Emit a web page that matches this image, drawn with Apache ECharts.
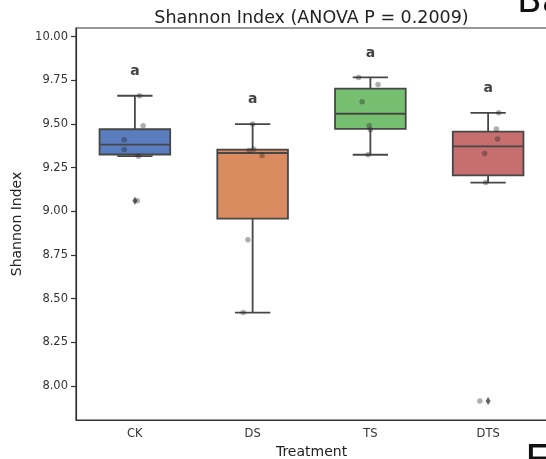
<!DOCTYPE html>
<html>
<head>
<meta charset="utf-8">
<script src="https://cdn.jsdelivr.net/npm/echarts@6/dist/echarts.min.js"></script>
<style>
html, body { margin: 0; padding: 0; background: #fff; }
#chart { width: 546px; height: 459px; }
</style>
</head>
<body>
<div id="chart"></div>
<script>
const categories = ['CK', 'DS', 'TS', 'DTS'];
const ckValues = [9.662, 9.49, 9.41, 9.354, 9.316, 9.06];
const dsValues = [9.50, 9.355, 9.348, 9.32, 8.837, 8.42];
const tsValues = [9.767, 9.727, 9.628, 9.49, 9.467, 9.324];
const dtsValues = [9.564, 9.471, 9.414, 9.331, 9.165, 7.914];
// strip plot jitter, in category units
const ckJitter = [0.04, 0.07, -0.09, -0.09, 0.03, 0.02];
const dsJitter = [0, 0.01, -0.03, 0.08, -0.04, -0.08];
const tsJitter = [-0.10, 0.065, -0.07, -0.01, 0, -0.02];
const dtsJitter = [0.09, 0.07, 0.08, -0.03, -0.02, -0.07];
const letters = ['a', 'a', 'a', 'a'];
const yTicks = [8.00, 8.25, 8.50, 8.75, 9.00, 9.25, 9.50, 9.75, 10.00];
const boxColors = ['#597dbf', '#da8b5f', '#76bf71', '#c76e6e'];
const lineColor = '#474747';
const font = 'DejaVu Sans';

const groups = [ckValues, dsValues, tsValues, dtsValues];
const jitters = [ckJitter, dsJitter, tsJitter, dtsJitter];

function quantile(sorted, p) {
    const pos = (sorted.length - 1) * p;
    const lo = Math.floor(pos), hi = Math.ceil(pos);
    return sorted[lo] + (sorted[hi] - sorted[lo]) * (pos - lo);
}

// seaborn style box stats (1.5 IQR whiskers)
function boxStats(vals) {
    const s = vals.slice().sort((a, b) => a - b);
    const q1 = quantile(s, 0.25), med = quantile(s, 0.5), q3 = quantile(s, 0.75);
    const iqr = q3 - q1;
    const inRange = v => v >= q1 - 1.5 * iqr && v <= q3 + 1.5 * iqr;
    const inside = s.filter(inRange);
    return {
        lo: inside[0], q1: q1, med: med, q3: q3, hi: inside[inside.length - 1],
        out: s.filter(v => !inRange(v))
    };
}

const stats = groups.map(boxStats);
const boxData = stats.map((s, i) => [i, s.lo, s.q1, s.med, s.q3, s.hi]);
const outlierData = [];
stats.forEach((s, i) => s.out.forEach(v => outlierData.push([i, v])));
const pointData = [];
groups.forEach((g, i) => g.forEach((v, j) => pointData.push([i + jitters[i][j], v])));
const letterData = groups.map((g, i) => [i, Math.max.apply(null, g) + 0.14, letters[i]]);

let chart = echarts.init(document.getElementById('chart'));
chart.setOption({
    animation: false,
    backgroundColor: '#fff',
    title: {
        text: 'Shannon Index (ANOVA P = 0.2009)',
        left: 311.5,
        top: 9,
        padding: 0,
        textAlign: 'center',
        textStyle: { fontFamily: font, fontSize: 17.5, fontWeight: 'normal', color: '#222' }
    },
    graphic: [
        // bits of the neighbouring panels that got cropped in
        { type: 'text', x: 517, y: 3, style: { text: 'Ba', fontFamily: font, fontSize: 36, fill: '#111', verticalAlign: 'middle' } },
        { type: 'text', x: 525, y: 464, style: { text: 'E', fontFamily: font, fontSize: 40, fill: '#111', verticalAlign: 'middle' } }
    ],
    grid: {
        left: 76, top: 28, width: 471, height: 392,
        outerBoundsMode: 'none',
        show: true, borderColor: '#333', borderWidth: 1.2, backgroundColor: 'transparent'
    },
    xAxis: [
        {
            type: 'category',
            data: categories,
            boundaryGap: true,
            name: 'Treatment',
            nameLocation: 'middle',
            nameGap: 24,
            nameTextStyle: { fontFamily: font, fontSize: 14, color: '#222' },
            axisLine: { lineStyle: { color: '#333', width: 1.2 } },
            axisTick: { alignWithLabel: true, length: 5, lineStyle: { color: '#333', width: 1.2 } },
            axisLabel: { fontFamily: font, fontSize: 11.5, color: '#333', margin: 8 },
            splitLine: { show: false }
        },
        { type: 'value', min: -0.5, max: 3.5, show: false }
    ],
    yAxis: {
        type: 'value',
        min: 7.805,
        max: 10.05,
        name: 'Shannon Index',
        nameLocation: 'middle',
        nameRotate: 90,
        nameGap: 50,
        nameTextStyle: { fontFamily: font, fontSize: 14, color: '#222' },
        axisLine: { show: true, onZero: false, lineStyle: { color: '#333', width: 1.2 } },
        axisTick: { show: true, length: 5, customValues: yTicks, lineStyle: { color: '#333', width: 1.2 } },
        axisLabel: {
            fontFamily: font, fontSize: 11.5, color: '#333', margin: 8,
            customValues: yTicks,
            formatter: v => v.toFixed(2)
        },
        splitLine: { show: false }
    },
    series: [
        {
            type: 'custom',
            xAxisIndex: 0,
            data: boxData,
            encode: { x: 0, y: [1, 2, 3, 4, 5] },
            renderItem: function (params, api) {
                const idx = api.value(0);
                const band = api.size([1, 0])[0];
                const half = band * 0.3, cap = band * 0.15;
                const cx = api.coord([idx, api.value(3)])[0];
                const yLo = api.coord([idx, api.value(1)])[1];
                const yQ1 = api.coord([idx, api.value(2)])[1];
                const yMed = api.coord([idx, api.value(3)])[1];
                const yQ3 = api.coord([idx, api.value(4)])[1];
                const yHi = api.coord([idx, api.value(5)])[1];
                const st = { stroke: lineColor, lineWidth: 1.8 };
                return {
                    type: 'group',
                    children: [
                        { type: 'line', shape: { x1: cx, y1: yQ3, x2: cx, y2: yHi }, style: st },
                        { type: 'line', shape: { x1: cx, y1: yQ1, x2: cx, y2: yLo }, style: st },
                        { type: 'line', shape: { x1: cx - cap, y1: yHi, x2: cx + cap, y2: yHi }, style: st },
                        { type: 'line', shape: { x1: cx - cap, y1: yLo, x2: cx + cap, y2: yLo }, style: st },
                        {
                            type: 'rect',
                            shape: { x: cx - half, y: yQ3, width: half * 2, height: yQ1 - yQ3 },
                            style: { fill: boxColors[idx], stroke: lineColor, lineWidth: 1.8 }
                        },
                        { type: 'line', shape: { x1: cx - half, y1: yMed, x2: cx + half, y2: yMed }, style: st }
                    ]
                };
            },
            z: 2
        },
        {
            type: 'scatter',
            xAxisIndex: 1,
            data: outlierData,
            symbol: 'diamond',
            symbolSize: [5, 8],
            itemStyle: { color: '#3d3d3d' },
            z: 3
        },
        {
            type: 'scatter',
            xAxisIndex: 1,
            data: pointData,
            symbolSize: 5.5,
            itemStyle: { color: 'rgba(30,30,30,0.45)' },
            z: 4
        },
        {
            type: 'scatter',
            xAxisIndex: 1,
            data: letterData,
            symbolSize: 0,
            label: {
                show: true,
                position: 'inside',
                formatter: p => p.data[2],
                fontFamily: font,
                fontSize: 14,
                fontWeight: 'bold',
                color: '#111'
            },
            z: 5
        }
    ]
})
</script>
</body>
</html>
